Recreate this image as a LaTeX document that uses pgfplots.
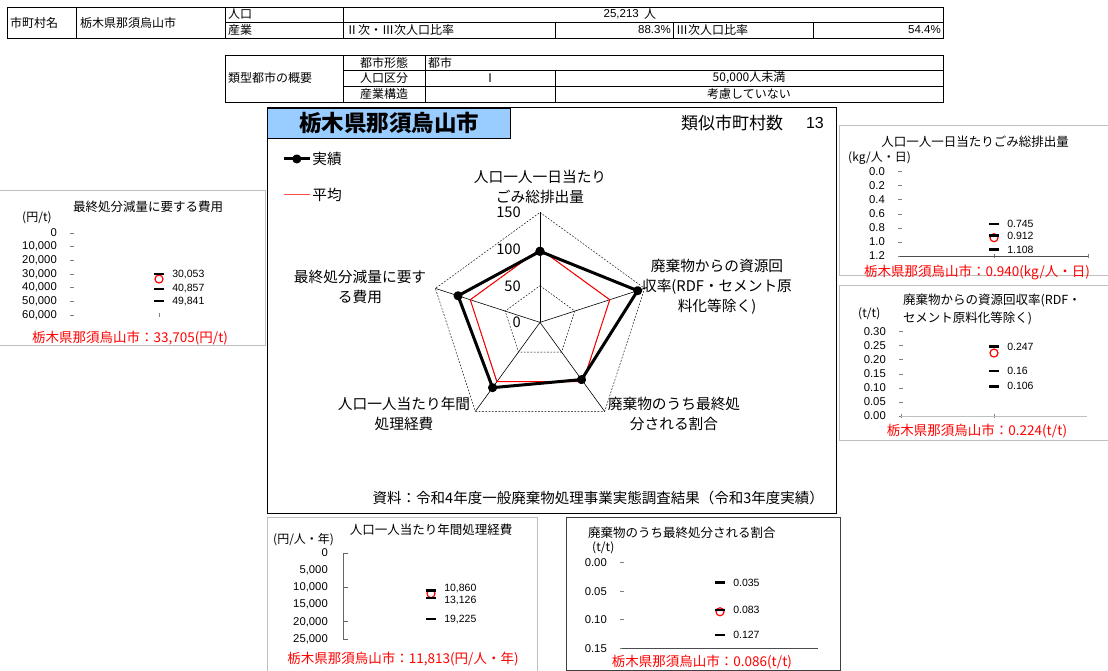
\documentclass[border=0pt]{standalone}
\usepackage{pgfplots}
\pgfplotsset{compat=1.18}
\usepackage{fontspec}
\setmainfont{Noto Sans CJK JP}
\newfontfamily\arial{Liberation Sans}
\definecolor{titleblue}{RGB}{153,204,255}
\definecolor{panelgray}{RGB}{191,191,191}
\definecolor{tickgray}{RGB}{128,128,128}
\newcommand{\fs}[1]{\fontsize{#1}{#1}\selectfont}
\pgfplotsset{
  mini/.style={scale only axis, anchor=center, xmin=0, xmax=2, xtick={1}, xticklabels={},
    axis y line*=left, axis x line*=bottom, axis line style={-},
    y axis line style={draw=none}, x axis line style={draw=none},
    tick style={tickgray, line width=0.6pt}, major tick length=4pt, tick align=center,
    scaled y ticks=false, clip=false,
    yticklabel style={font=\arial\fs{11.3}, anchor=east, inner sep=0pt, xshift=-13pt}},
  dashes/.style={only marks, mark=-, mark size=5pt, black, mark options={line width=2.6pt},
    nodes near coords, point meta=explicit symbolic,
    nodes near coords style={anchor=west, inner sep=0pt, xshift=12pt, font=\arial\fs{10.5}, black}},
  redc/.style={only marks, mark=o, red, mark size=4pt, mark options={line width=1.2pt}}
}
\begin{document}
\begin{tikzpicture}
\path[use as bounding box] (0,0) rectangle (1108pt,671pt);
\begin{scope}[x=1pt,y=-1pt,yshift=671pt, every node/.style={inner sep=0pt}, font=\fs{12}]
% ---- table 1
\draw[line width=0.8pt] (7,7) rectangle (943,38);
\draw[line width=0.8pt] (76,7)--(76,38) (225,7)--(225,38) (343,7)--(343,38) (225,22)--(943,22)
  (555,22)--(555,38) (673,22)--(673,38) (813,22)--(813,38);
\node[anchor=west] at (10,22.5) {市町村名};
\node[anchor=west] at (80,22.5) {栃木県那須烏山市};
\node[anchor=west] at (228,14.5) {人口};
\node[anchor=west] at (228,30) {産業};
\node[anchor=east, font=\arial\fs{11.5}] at (639,14.5) {25,213};
\node[anchor=west] at (644,14.5) {人};
\node[anchor=west] at (346,30) {Ⅱ次・Ⅲ次人口比率};
\node[anchor=east, font=\arial\fs{11.5}] at (671,30) {88.3\%};
\node[anchor=west] at (676,30) {Ⅲ次人口比率};
\node[anchor=east, font=\arial\fs{11.5}] at (941,30) {54.4\%};
% ---- table 2
\draw[line width=0.8pt] (225,55) rectangle (943,102);
\draw[line width=0.8pt] (343,55)--(343,102) (425,55)--(425,102) (343,70)--(943,70) (343,86)--(943,86) (555,70)--(555,102);
\node[anchor=west] at (228,78) {類型都市の概要};
\node at (384,62.5) {都市形態};
\node at (384,78) {人口区分};
\node at (384,94) {産業構造};
\node[anchor=west] at (428,62.5) {都市};
\node at (490,78) {Ⅰ};
\node at (749,78) {50,000人未満};
\node at (749,94) {考慮していない};
% ---- radar frame
\draw[line width=1pt] (267,108) rectangle (836,514);
\draw[line width=0.8pt, fill=titleblue] (267,108) rectangle (510,138);
\node[font=\fs{22.5}\bfseries] at (389,123) {栃木県那須烏山市};
\node[anchor=west, font=\fs{17}] at (681,123) {類似市町村数};
\node[anchor=east, font=\arial\fs{16}] at (824,123) {13};
\node[anchor=east, font=\fs{14.5}] at (824,498) {資料：令和4年度一般廃棄物処理事業実態調査結果（令和3年度実績）};
\begin{scope}[font=\fontsize{14.7}{20}\selectfont]
\node[align=center] at (540,187) {人口一人一日当たり\\ごみ総排出量};
\node[align=center] at (717,287) {廃棄物からの資源回\\収率(RDF・セメント原\\料化等除く)};
\node[align=center] at (674,414) {廃棄物のうち最終処\\分される割合};
\node[align=center] at (404,414) {人口一人当たり年間\\処理経費};
\node[align=center] at (360,287) {最終処分減量に要す\\る費用};
\node[anchor=east] at (521,212) {150};
\node[anchor=east] at (521,249) {100};
\node[anchor=east] at (521,286) {50};
\node[anchor=east] at (521,322) {0};
\end{scope}
% ---- panel A
\draw[panelgray] (-1,190) rectangle (265,345);
\node[font=\fs{12.5}] at (148,207) {最終処分減量に要する費用};
\node[anchor=west] at (22,218) {(円/t)};
\node[red, font=\fs{13.5}] at (130,338) {栃木県那須烏山市：33,705(円/t)};
% ---- panel B
\draw[panelgray] (839,125) rectangle (1110,275);
\node[font=\fs{12.5}] at (975,142) {人口一人一日当たりごみ総排出量};
\node[anchor=west] at (848,158) {(kg/人・日)};
\node[red, font=\fs{13.5}] at (977,272) {栃木県那須烏山市：0.940(kg/人・日)};
% ---- panel C
\draw[panelgray] (839,285) rectangle (1110,440);
\node[anchor=west, font=\fs{12.5}] at (903,300) {廃棄物からの資源回収率(RDF・};
\node[anchor=west, font=\fs{12.5}] at (903,318) {セメント原料化等除く)};
\node[anchor=west] at (858,314) {(t/t)};
\node[red, font=\fs{13.5}] at (977,431) {栃木県那須烏山市：0.224(t/t)};
% ---- panel D
\draw[panelgray] (267,517) rectangle (537,673);
\node[font=\fs{12.5}] at (431,530) {人口一人当たり年間処理経費};
\node[anchor=west] at (273,540) {(円/人・年)};
\node[red, font=\fs{13.5}] at (403,659) {栃木県那須烏山市：11,813(円/人・年)};
% ---- panel E
\draw[black!75] (566,517) rectangle (840,670);
\node[anchor=west, font=\fs{12.5}] at (588,533) {廃棄物のうち最終処分される割合};
\node[anchor=west] at (592,548) {(t/t)};
\node[red, font=\fs{13.5}] at (702,662) {栃木県那須烏山市：0.086(t/t)};
\end{scope}

% ================= radar
\begin{axis}[at={(540pt,348.6pt)}, anchor=center, scale only axis, width=220pt, height=220pt,
  xmin=-150, xmax=150, ymin=-150, ymax=150, hide axis, clip=false,
  legend style={at={(-0.672,1.28)}, anchor=north west, draw=none, fill=none, font=\fs{14.7},
    row sep=20pt, inner sep=0pt, nodes={inner sep=1pt}},
  legend cell align=left,
  legend image code/.code={\draw[mark repeat=2, mark phase=2, #1] plot coordinates {(0pt,0pt) (13pt,0pt) (26pt,0pt)};}]
\addplot[black, line width=0.6pt, data cs=polar, forget plot] coordinates {(90,0) (90,150)};
\addplot[black, line width=0.6pt, data cs=polar, forget plot] coordinates {(18,0) (18,150)};
\addplot[black, line width=0.6pt, data cs=polar, forget plot] coordinates {(-54,0) (-54,150)};
\addplot[black, line width=0.6pt, data cs=polar, forget plot] coordinates {(-126,0) (-126,150)};
\addplot[black, line width=0.6pt, data cs=polar, forget plot] coordinates {(162,0) (162,150)};
\addplot[black, line width=0.45pt, dash pattern=on 1.8pt off 1.5pt, data cs=polar, forget plot] coordinates {(90,50) (18,50) (-54,50) (-126,50) (162,50) (90,50)};
\addplot[black, line width=0.45pt, dash pattern=on 1.8pt off 1.5pt, data cs=polar, forget plot] coordinates {(90,100) (18,100) (-54,100) (-126,100) (162,100) (90,100)};
\addplot[black, line width=0.45pt, dash pattern=on 1.8pt off 1.5pt, data cs=polar, forget plot] coordinates {(90,150) (18,150) (-54,150) (-126,150) (162,150) (90,150)};
\addplot[red, line width=1pt, data cs=polar, forget plot] coordinates {(90,100) (18,100) (-54,100) (-126,100) (162,100) (90,100)};
\addplot[black, line width=3pt, line join=round, mark=*, mark size=3pt, data cs=polar] coordinates {(90,96.9) (18,140.0) (-54,96.4) (-126,110.0) (162,117.5) (90,96.9)};
\addlegendentry{実績}
\addlegendimage{red!70, line width=1pt}
\addlegendentry{平均}
\end{axis}

% ================= chart A
\begin{axis}[mini, at={(159pt,397pt)}, width=174pt, height=82pt, ymin=0, ymax=60000, y dir=reverse,
  ytick={0,10000,20000,30000,40000,50000,60000},
  yticklabels={0,{10,000},{20,000},{30,000},{40,000},{50,000},{60,000}}]
\addplot[redc] coordinates {(1,33705)};
\addplot[dashes] table[meta=l] {
x y l
1 30053 30,053
1 40857 40,857
1 49841 49,841
};
\end{axis}

% ================= chart B
\begin{axis}[mini, at={(994pt,457.15pt)}, width=188pt, height=84.3pt, ymin=0, ymax=1.2, y dir=reverse,
  xtick={1,2}, x axis line style={draw=black!70},
  ytick={0,0.2,0.4,0.6,0.8,1.0,1.2},
  yticklabels={0.0,0.2,0.4,0.6,0.8,1.0,1.2}]
\addplot[redc] coordinates {(1,0.940)};
\addplot[dashes] table[meta=l] {
x y l
1 0.745 0.745
1 0.912 0.912
1 1.108 1.108
};
\end{axis}

% ================= chart C
\begin{axis}[mini, at={(994pt,297.15pt)}, width=186pt, height=84.3pt, ymin=0, ymax=0.3,
  xtick={0,1}, x axis line style={draw=black!25},
  ytick={0,0.05,0.10,0.15,0.20,0.25,0.30},
  yticklabels={0.00,0.05,0.10,0.15,0.20,0.25,0.30}]
\addplot[redc] coordinates {(1,0.224)};
\addplot[dashes] table[meta=l] {
x y l
1 0.247 0.247
1 0.16 0.16
1 0.106 0.106
};
\end{axis}

% ================= chart D
\begin{axis}[mini, at={(431pt,75pt)}, width=176pt, height=86pt, ymin=0, ymax=25000, y dir=reverse,
  xtick=\empty, ytick style={draw=none},
  ytick={0,5000,10000,15000,20000,25000},
  yticklabels={0,{5,000},{10,000},{15,000},{20,000},{25,000}}]
\draw[black!60, line width=0.9pt] (rel axis cs:0.03,0) -- (rel axis cs:0,0) -- (rel axis cs:0,1) -- (rel axis cs:0.03,1);
\draw[black!60, line width=0.9pt] (axis cs:0,10000) -- (axis cs:0.06,10000);
\draw[black!60, line width=0.9pt] (axis cs:0,20000) -- (axis cs:0.06,20000);
\addplot[redc] coordinates {(1,11813)};
\addplot[dashes, nodes near coords style={yshift=2pt}] table[meta=l] {
x y l
1 10860 10,860
};
\addplot[dashes, nodes near coords style={yshift=-2pt}] table[meta=l] {
x y l
1 13126 13,126
};
\addplot[dashes] table[meta=l] {
x y l
1 19225 19,225
};
\end{axis}

% ================= chart E
\begin{axis}[mini, at={(720pt,65.5pt)}, width=196pt, height=85.6pt, ymin=0, ymax=0.15, y dir=reverse,
  x axis line style={draw=black!70}, xtick=\empty,
  ytick={0,0.05,0.10,0.15},
  yticklabels={0.00,0.05,0.10,0.15}]
\addplot[redc] coordinates {(1,0.086)};
\addplot[dashes] table[meta=l] {
x y l
1 0.035 0.035
1 0.083 0.083
1 0.127 0.127
};
\end{axis}
\end{tikzpicture}
\end{document}
